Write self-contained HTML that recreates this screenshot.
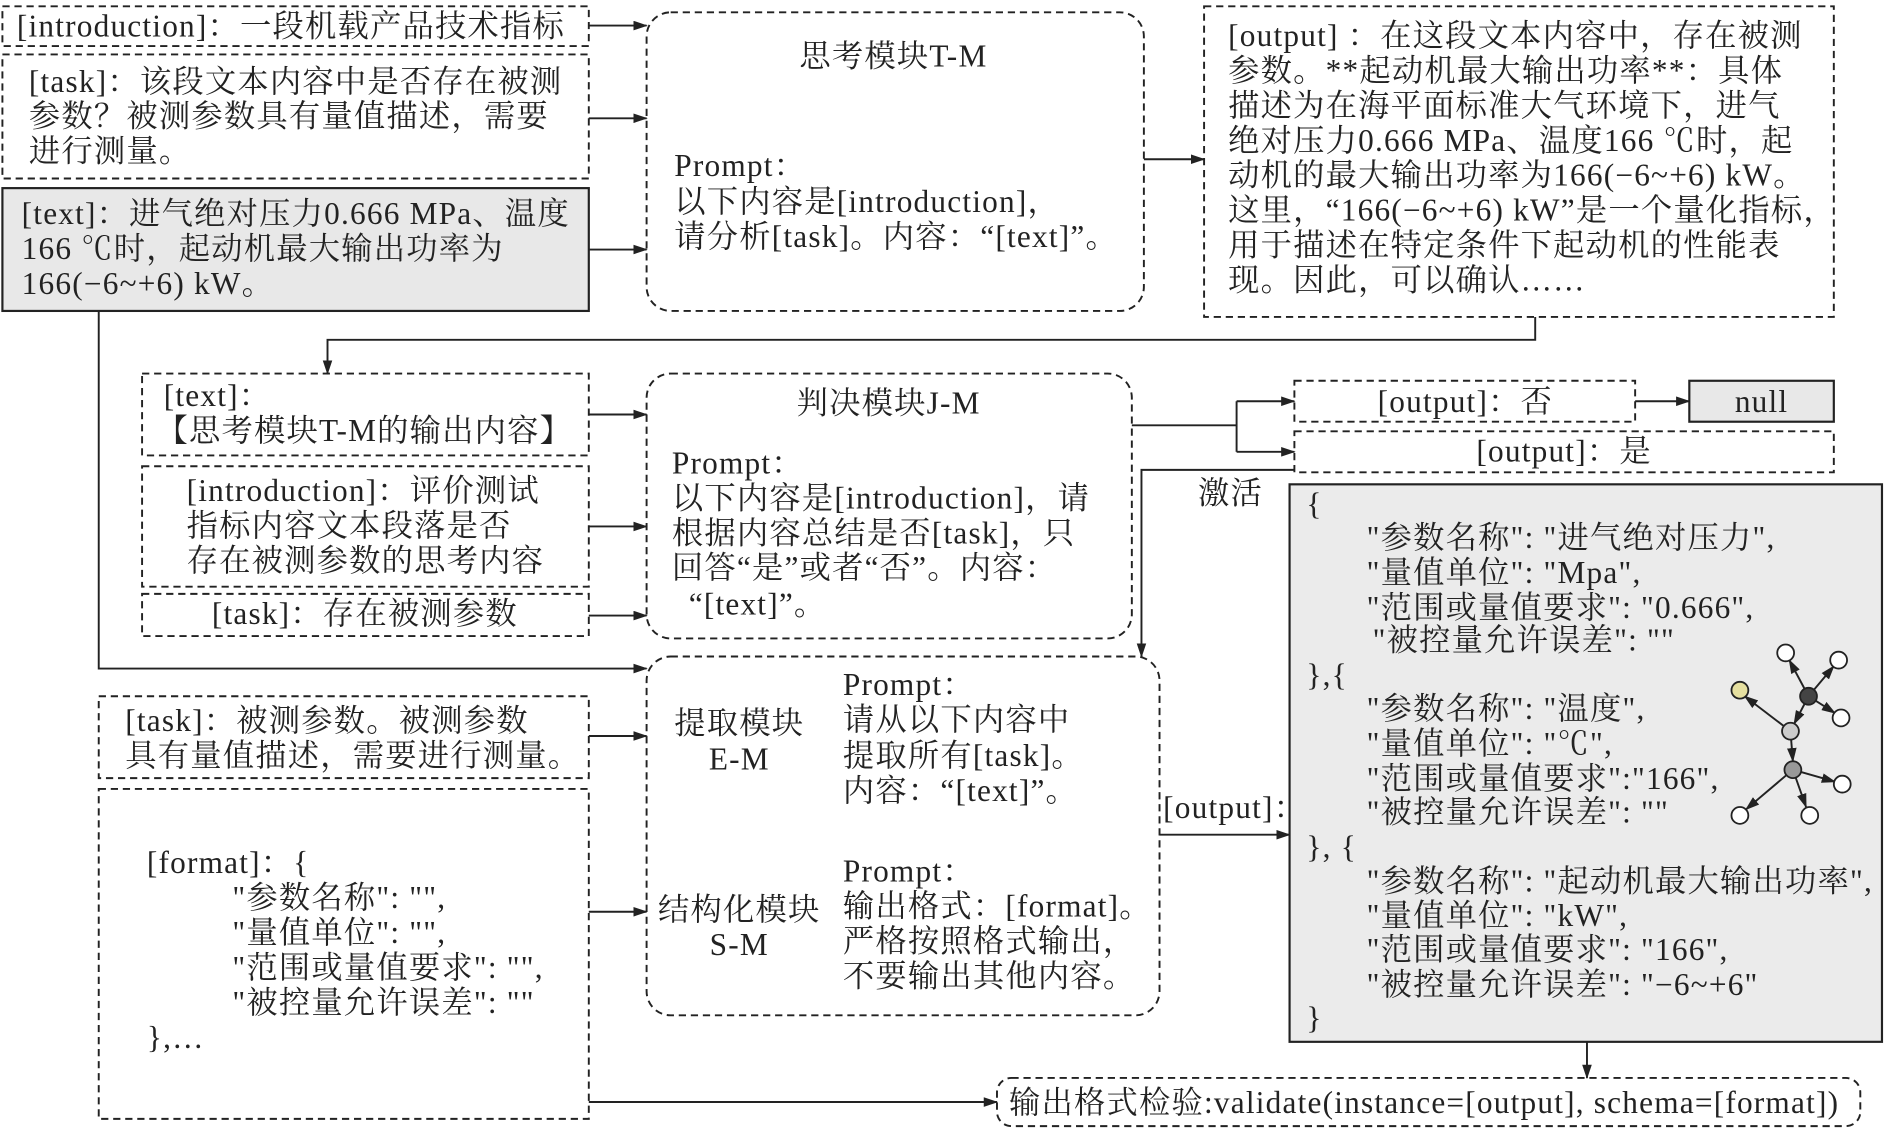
<!DOCTYPE html>
<html><head><meta charset="utf-8"><style>
html,body{margin:0;padding:0;background:#fff;}
svg{display:block;}
text{font-family:"Liberation Serif","Noto Serif CJK SC","Noto Sans CJK SC",serif;font-size:26px;letter-spacing:1px;fill:#222;}
.d{fill:none;stroke:#222;stroke-width:1.6;stroke-dasharray:6 4;}
.l{fill:none;stroke:#222;stroke-width:1.6;}
.c{text-anchor:middle;}
</style></head><body>
<svg width="1888" height="1130" viewBox="0 0 1568 938" xmlns="http://www.w3.org/2000/svg">
<defs><marker id="a" markerWidth="12" markerHeight="8" refX="11" refY="4" orient="auto" markerUnits="userSpaceOnUse"><path d="M0,0 L12,4 L0,8 z" fill="#222"/></marker></defs>

<rect class="d" x="2" y="5" width="487" height="33"/>
<text x="14" y="30">[introduction]：一段机载产品技术指标</text>
<rect class="d" x="2" y="45" width="487" height="103"/>
<text x="24" y="76">[task]：该段文本内容中是否存在被测</text>
<text x="24" y="105">参数？被测参数具有量值描述，需要</text>
<text x="24" y="134">进行测量。</text>
<rect x="2" y="156" width="487" height="102" fill="#e8e8e8" stroke="#222" stroke-width="1.8"/>
<text x="18" y="186">[text]：进气绝对压力0.666 MPa、温度</text>
<text x="18" y="215">166 ℃时，起动机最大输出功率为</text>
<text x="18" y="244">166(−6~+6) kW。</text>
<path class="l" d="M489,21 H537" marker-end="url(#a)"/>
<path class="l" d="M489,98 H537" marker-end="url(#a)"/>
<path class="l" d="M489,207 H537" marker-end="url(#a)"/>

<rect class="d" x="537" y="10" width="413" height="248" rx="20"/>
<text class="c" x="742" y="55">思考模块T-M</text>
<text x="560" y="146">Prompt：</text>
<text x="560" y="176">以下内容是[introduction]，</text>
<text x="560" y="205">请分析[task]。内容：“[text]”。</text>
<path class="l" d="M950,132 H1000" marker-end="url(#a)"/>

<rect class="d" x="1000" y="5" width="523" height="258"/>
<text x="1020" y="38">[output] ：在这段文本内容中，存在被测</text>
<text x="1020" y="67">参数。**起动机最大输出功率**：具体</text>
<text x="1020" y="96">描述为在海平面标准大气环境下，进气</text>
<text x="1020" y="125">绝对压力0.666 MPa、温度166 ℃时，起</text>
<text x="1020" y="154">动机的最大输出功率为166(−6~+6) kW。</text>
<text x="1020" y="183">这里，“166(−6~+6) kW”是一个量化指标，</text>
<text x="1020" y="212">用于描述在特定条件下起动机的性能表</text>
<text x="1020" y="241">现。因此，可以确认……</text>
<path class="l" d="M1275,263 V282 H272 V310" marker-end="url(#a)"/>

<rect class="d" x="118" y="310" width="371" height="68"/>
<text x="136" y="337">[text]：</text>
<text x="130" y="366">【思考模块T-M的输出内容】</text>
<rect class="d" x="118" y="387" width="371" height="100"/>
<text x="155" y="416">[introduction]：评价测试</text>
<text x="155" y="445">指标内容文本段落是否</text>
<text x="155" y="474">存在被测参数的思考内容</text>
<rect class="d" x="118" y="493" width="371" height="35"/>
<text class="c" x="303" y="518">[task]：存在被测参数</text>
<path class="l" d="M489,344 H537" marker-end="url(#a)"/>
<path class="l" d="M489,437 H537" marker-end="url(#a)"/>
<path class="l" d="M489,511 H537" marker-end="url(#a)"/>

<rect class="d" x="537" y="310" width="403" height="220" rx="20"/>
<text class="c" x="738" y="343">判决模块J-M</text>
<text x="558" y="393">Prompt：</text>
<text x="558" y="422">以下内容是[introduction]，请</text>
<text x="558" y="451">根据内容总结是否[task]，只</text>
<text x="558" y="480">回答“是”或者“否”。内容：</text>
<text x="572" y="510">“[text]”。</text>

<path class="l" d="M940,353 H1027"/>
<path class="l" d="M1027,333 V375"/>
<path class="l" d="M1027,333 H1075" marker-end="url(#a)"/>
<path class="l" d="M1027,375 H1075" marker-end="url(#a)"/>
<rect class="d" x="1075" y="316" width="283" height="34"/>
<text class="c" x="1217" y="342">[output]：否</text>
<path class="l" d="M1358,333 H1403" marker-end="url(#a)"/>
<rect x="1403" y="316" width="120" height="34" fill="#e8e8e8" stroke="#222" stroke-width="1.8"/>
<text class="c" x="1463" y="342">null</text>
<rect class="d" x="1075" y="358" width="448" height="34"/>
<text class="c" x="1299" y="383">[output]：是</text>
<path class="l" d="M1075,390 H948 V545" marker-end="url(#a)"/>
<text x="995" y="418">激活</text>

<path class="l" d="M82,258 V555 H537" marker-end="url(#a)"/>
<rect class="d" x="82" y="578" width="407" height="68"/>
<text x="104" y="607">[task]：被测参数。被测参数</text>
<text x="104" y="636">具有量值描述，需要进行测量。</text>
<path class="l" d="M489,611 H537" marker-end="url(#a)"/>
<rect class="d" x="82" y="655" width="407" height="274"/>
<text x="122" y="725">[format]：{</text>
<text x="193" y="754">"参数名称": "",</text>
<text x="193" y="783">"量值单位": "",</text>
<text x="193" y="812">"范围或量值要求": "",</text>
<text x="193" y="841">"被控量允许误差": ""</text>
<text x="122" y="870">},…</text>
<path class="l" d="M489,757 H537" marker-end="url(#a)"/>
<path class="l" d="M489,915 H828" marker-end="url(#a)"/>

<rect class="d" x="537" y="545" width="426" height="298" rx="20"/>
<text class="c" x="614" y="609">提取模块</text>
<text class="c" x="614" y="639">E-M</text>
<text x="700" y="577">Prompt：</text>
<text x="700" y="606">请从以下内容中</text>
<text x="700" y="636">提取所有[task]。</text>
<text x="700" y="665">内容：“[text]”。</text>
<text class="c" x="614" y="764">结构化模块</text>
<text class="c" x="614" y="793">S-M</text>
<text x="700" y="732">Prompt：</text>
<text x="700" y="761">输出格式：[format]。</text>
<text x="700" y="790">严格按照格式输出，</text>
<text x="700" y="819">不要输出其他内容。</text>
<text x="966" y="679">[output]：</text>
<path class="l" d="M963,693 H1071" marker-end="url(#a)"/>

<rect x="1071" y="402" width="492" height="463" fill="#ebebeb" stroke="#222" stroke-width="1.8"/>
<text x="1085" y="427">{</text>
<text x="1135" y="455">"参数名称": "进气绝对压力",</text>
<text x="1135" y="484">"量值单位": "Mpa",</text>
<text x="1135" y="513">"范围或量值要求":  "0.666",</text>
<text x="1140" y="540">"被控量允许误差": ""</text>
<text x="1085" y="569">},{</text>
<text x="1135" y="597">"参数名称": "温度",</text>
<text x="1135" y="626">"量值单位": "℃",</text>
<text x="1135" y="655">"范围或量值要求":"166",</text>
<text x="1135" y="683">"被控量允许误差": ""</text>
<text x="1085" y="712">}, {</text>
<text x="1135" y="740">"参数名称": "起动机最大输出功率",</text>
<text x="1135" y="769">"量值单位": "kW",</text>
<text x="1135" y="797">"范围或量值要求": "166",</text>
<text x="1135" y="826">"被控量允许误差": "−6~+6"</text>
<text x="1085" y="854">}</text>

<g stroke="#222" stroke-width="1.5">
<path class="l" d="M1487,607 L1449,578" marker-end="url(#a)"/>
<path class="l" d="M1502,578 L1486,548" marker-end="url(#a)"/>
<path class="l" d="M1502,578 L1523,553" marker-end="url(#a)"/>
<path class="l" d="M1502,578 L1524,592" marker-end="url(#a)"/>
<path class="l" d="M1502,578 L1490,601" marker-end="url(#a)"/>
<path class="l" d="M1487,607 L1489,632" marker-end="url(#a)"/>
<path class="l" d="M1489,639 L1524,649" marker-end="url(#a)"/>
<path class="l" d="M1489,639 L1450,672" marker-end="url(#a)"/>
<path class="l" d="M1489,639 L1500,670" marker-end="url(#a)"/>
<circle cx="1445" cy="573" r="7" fill="#e6e0a0"/>
<circle cx="1502" cy="578" r="7" fill="#444"/>
<circle cx="1483" cy="542" r="7" fill="#fff"/>
<circle cx="1527" cy="548" r="7" fill="#fff"/>
<circle cx="1529" cy="596" r="7" fill="#fff"/>
<circle cx="1487" cy="607" r="7" fill="#ccc"/>
<circle cx="1489" cy="639" r="7" fill="#999"/>
<circle cx="1530" cy="651" r="7" fill="#fff"/>
<circle cx="1445" cy="677" r="7" fill="#fff"/>
<circle cx="1503" cy="677" r="7" fill="#fff"/>
</g>

<path class="l" d="M1318,865 V895" marker-end="url(#a)"/>
<rect class="d" x="828" y="895" width="717" height="40" rx="12"/>
<text x="838" y="924">输出格式检验:validate(instance=[output], schema=[format])</text>
</svg>
</body></html>
